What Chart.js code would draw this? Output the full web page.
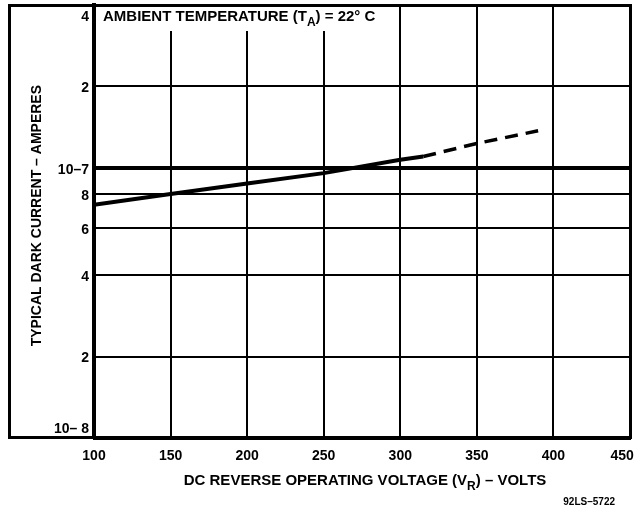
<!DOCTYPE html>
<html><head><meta charset="utf-8">
<script src="https://cdn.jsdelivr.net/npm/chart.js@4"></script>
<style>html,body{margin:0;padding:0;background:#fff}</style>
</head><body>
<canvas id="c" width="637" height="513"></canvas>
<script>
// ---- data ----
const voltageSolid = [100, 150, 200, 250, 300, 315];
const currentSolid = [7.3e-8, 8.0e-8, 8.75e-8, 9.55e-8, 1.07e-7, 1.1e-7];
const voltageDashed = [315, 350, 390];
const currentDashed = [1.1e-7, 1.23e-7, 1.37e-7];
const xTickValues = [100, 150, 200, 250, 300, 350, 400, 450];
const xTickLabels = ['100', '150', '200', '250', '300', '350', '400', '450    '];
const yTickValues = [1e-8, 2e-8, 4e-8, 6e-8, 8e-8, 1e-7, 2e-7, 4e-7];
const yTickLabels = ['10– 8', '2', '4', '6', '8', '10–7', '2', '4'];
const yAxisTitle = '   TYPICAL DARK CURRENT – AMPERES';
const xAxisTitleParts = [['DC REVERSE OPERATING VOLTAGE (V', false], ['R', true], [') – VOLTS', false]];
const chartTitleParts = [['AMBIENT TEMPERATURE (T', false], ['A', true], [') = 22° C', false]];
const figureCode = '92LS–5722';

const FONT = '"Liberation Sans", Arial, Helvetica, sans-serif';

function drawRich(ctx, parts, x, y, size, align) {
  let total = 0;
  parts.forEach(([t, sub]) => {
    ctx.font = 'bold ' + (sub ? Math.round(size * 0.8) : size) + 'px ' + FONT;
    total += ctx.measureText(t).width;
  });
  let cx = align === 'center' ? x - total / 2 : x;
  ctx.textAlign = 'left';
  ctx.textBaseline = 'alphabetic';
  parts.forEach(([t, sub]) => {
    ctx.font = 'bold ' + (sub ? Math.round(size * 0.8) : size) + 'px ' + FONT;
    ctx.fillText(t, cx, sub ? y + size * 0.3 : y);
    cx += ctx.measureText(t).width;
  });
}

const framePlugin = {
  id: 'frame',
  afterDraw(chart) {
    const ctx = chart.ctx;
    ctx.save();
    ctx.strokeStyle = '#000';
    ctx.fillStyle = '#000';
    ctx.lineWidth = 3;
    ctx.beginPath();
    ctx.moveTo(9.5, 4); ctx.lineTo(9.5, 439);
    ctx.moveTo(8, 5.5); ctx.lineTo(632, 5.5);
    ctx.moveTo(8, 437.5); ctx.lineTo(632, 437.5);
    ctx.moveTo(630.5, 4); ctx.lineTo(630.5, 439);
    ctx.stroke();
    // title box interrupts the vertical grid lines
    ctx.fillStyle = '#fff';
    ctx.fillRect(97, 7, 279, 24);
    ctx.fillStyle = '#000';
    drawRich(ctx, chartTitleParts, 103, 21, 15, 'left');
    drawRich(ctx, xAxisTitleParts, 365, 485, 15, 'center');
    ctx.font = 'bold 10px ' + FONT;
    ctx.textAlign = 'right';
    ctx.fillText(figureCode, 615, 505);
    ctx.restore();
  }
};

new Chart(document.getElementById('c'), {
  type: 'line',
  data: {
    datasets: [
      { data: voltageSolid.map((v, i) => ({ x: v, y: currentSolid[i] })),
        borderColor: '#000', borderWidth: 4, pointRadius: 0, tension: 0, fill: false },
      { data: voltageDashed.map((v, i) => ({ x: v, y: currentDashed[i] })),
        borderColor: '#000', borderWidth: 3.5, borderDash: [13, 8], pointRadius: 0, tension: 0, fill: false }
    ]
  },
  options: {
    responsive: false,
    animation: false,
    layout: { padding: { left: 0, right: 7, top: 5, bottom: 0 } },
    plugins: { legend: { display: false }, tooltip: { enabled: false } },
    scales: {
      x: {
        type: 'linear', min: 100, max: 450,
        afterBuildTicks: s => { s.ticks = xTickValues.map(v => ({ value: v })); },
        ticks: { color: '#000', font: { family: FONT, size: 14, weight: 'bold' }, padding: 10,
                 maxRotation: 0, autoSkip: false,
                 callback: (v, i) => xTickLabels[i] },
        grid: { color: '#000', lineWidth: c => (c.tick && c.tick.value === 450) ? 3 : 2, drawTicks: false },
        border: { color: '#000', width: 3 },
        afterFit: s => { s.height = 75; s.paddingLeft = 0; s.paddingRight = 0; }
      },
      y: {
        type: 'logarithmic', min: 1e-8, max: 4e-7,
        afterBuildTicks: s => { s.ticks = yTickValues.map(v => ({ value: v })); },
        ticks: {
          color: '#000', autoSkip: false, padding: 5, labelOffset: 2,
          font: { family: FONT, size: 14, weight: 'bold', lineHeight: 1.5 },
          callback: (v, i) => {
            const l = yTickLabels[i];
            if (i === 0) return [l, ''];
            if (i === yTickLabels.length - 1) return ['', l];
            return l;
          }
        },
        grid: { color: '#000', drawTicks: false,
                lineWidth: c => {
                  if (!c.tick) return 2;
                  if (c.tick.value === 1e-7) return 4;
                  if (c.tick.value === 4e-7) return 3;
                  return 2;
                } },
        border: { color: '#000', width: 4 },
        title: { display: true, text: yAxisTitle, color: '#000',
                 font: { family: FONT, size: 14, weight: 'bold' }, padding: { top: 29, bottom: 0 } },
        afterFit: s => { s.width = 94; s.paddingTop = 0; s.paddingBottom = 0; }
      }
    }
  },
  plugins: [framePlugin]
});
</script>
</body></html>
